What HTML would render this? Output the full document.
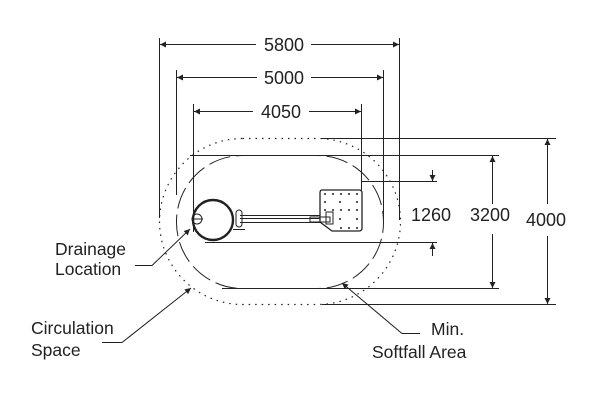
<!DOCTYPE html>
<html><head><meta charset="utf-8"><style>
html,body{margin:0;padding:0;background:#fff;}
svg{display:block;}
text{font-family:"Liberation Sans",Arial,sans-serif;fill:#222;}
</style></head><body>
<svg width="600" height="400" viewBox="0 0 600 400" xmlns="http://www.w3.org/2000/svg">
<defs>
<marker id="a" viewBox="0 0 10 10" refX="10" refY="5" markerWidth="9" markerHeight="6" orient="auto-start-reverse" markerUnits="userSpaceOnUse"><path d="M0,0L10,5L0,10z" fill="#222"/></marker>
</defs>
<g stroke="#222" stroke-width="1" fill="none">
<line x1="159.5" y1="38" x2="159.5" y2="218"/>
<line x1="399.5" y1="38" x2="399.5" y2="220"/>
<line x1="176.5" y1="70" x2="176.5" y2="195"/>
<line x1="383.5" y1="70" x2="383.5" y2="220"/>
<line x1="193.5" y1="104" x2="193.5" y2="232"/>
<line x1="361.5" y1="104" x2="361.5" y2="190"/>
<line x1="160" y1="44.5" x2="256" y2="44.5" marker-start="url(#a)"/>
<line x1="311" y1="44.5" x2="399" y2="44.5" marker-end="url(#a)"/>
<line x1="177" y1="77.5" x2="257" y2="77.5" marker-start="url(#a)"/>
<line x1="311" y1="77.5" x2="383" y2="77.5" marker-end="url(#a)"/>
<line x1="194" y1="111.5" x2="253" y2="111.5" marker-start="url(#a)"/>
<line x1="309" y1="111.5" x2="361" y2="111.5" marker-end="url(#a)"/>
<line x1="322" y1="138.5" x2="556" y2="138.5"/>
<line x1="190" y1="155.5" x2="499" y2="155.5"/>
<line x1="362" y1="181.5" x2="437" y2="181.5"/>
<line x1="205" y1="242.5" x2="437" y2="242.5"/>
<line x1="222" y1="288.5" x2="499" y2="288.5"/>
<line x1="322" y1="304.5" x2="556" y2="304.5"/>
<line x1="547.5" y1="139" x2="547.5" y2="204" marker-start="url(#a)"/>
<line x1="547.5" y1="236" x2="547.5" y2="304" marker-end="url(#a)"/>
<line x1="492.5" y1="156" x2="492.5" y2="204" marker-start="url(#a)"/>
<line x1="492.5" y1="234" x2="492.5" y2="288" marker-end="url(#a)"/>
<line x1="432.5" y1="170" x2="432.5" y2="181" marker-end="url(#a)"/>
<line x1="432.5" y1="256" x2="432.5" y2="243" marker-end="url(#a)"/>
<rect x="176.5" y="155.5" width="207" height="133" rx="66" ry="66" stroke-dasharray="22,6"/>
<rect x="159.5" y="138.5" width="241" height="166" rx="83" ry="83" stroke-dasharray="1.5,5" stroke-width="1.2"/>
<circle cx="213" cy="220" r="20" stroke-width="2.4"/>
<circle cx="197" cy="219" r="5"/>
<line x1="193" y1="219" x2="203" y2="219"/>
<path d="M322,190 H359 Q362,190 362,193 V228 Q362,231 359,231 H332 L320,222 V193 Q320,190 322,190Z" stroke-width="1.3"/>
<line x1="240" y1="215.5" x2="320" y2="215.5"/>
<line x1="240" y1="218.5" x2="320" y2="218.5"/>
<line x1="240" y1="222.5" x2="320" y2="222.5"/>
<rect x="236" y="210" width="6" height="17" rx="3"/>
<line x1="233" y1="229.5" x2="245" y2="229.5"/>
<rect x="310" y="217" width="20" height="5"/>
<rect x="326" y="212" width="7" height="12"/>
<polyline points="135,265.5 152,265.5 190,229" marker-end="url(#a)"/>
<polyline points="102,342.5 122,342.5 191,288" marker-end="url(#a)"/>
<polyline points="420,333.5 402,333.5 342,283" marker-end="url(#a)"/>
</g>
<g fill="#222">
<circle cx="325" cy="194" r="1"/><circle cx="333" cy="194" r="1"/><circle cx="341" cy="194" r="1"/><circle cx="349" cy="194" r="1"/><circle cx="357" cy="194" r="1"/>
<circle cx="325" cy="202" r="1"/><circle cx="340" cy="202" r="1"/><circle cx="357" cy="202" r="1"/>
<circle cx="325" cy="210" r="1"/><circle cx="333" cy="210" r="1"/><circle cx="341" cy="210" r="1"/><circle cx="349" cy="210" r="1"/><circle cx="357" cy="210" r="1"/>
<circle cx="340" cy="219" r="1"/><circle cx="357" cy="219" r="1"/>
<circle cx="341" cy="228" r="1"/><circle cx="349" cy="228" r="1"/><circle cx="357" cy="228" r="1"/>
</g>
<g font-size="18">
<text x="284" y="51" text-anchor="middle">5800</text>
<text x="284" y="84" text-anchor="middle">5000</text>
<text x="281" y="118" text-anchor="middle">4050</text>
<text x="411" y="221">1260</text>
<text x="470" y="221">3200</text>
<text x="526" y="226">4000</text>
</g>
<g font-size="17.5">
<text x="55" y="255">Drainage</text>
<text x="55" y="275">Location</text>
<text x="31" y="334">Circulation</text>
<text x="31" y="356">Space</text>
<text x="431" y="335">Min.</text>
<text x="372" y="358">Softfall Area</text>
</g>
</svg>
</body></html>
